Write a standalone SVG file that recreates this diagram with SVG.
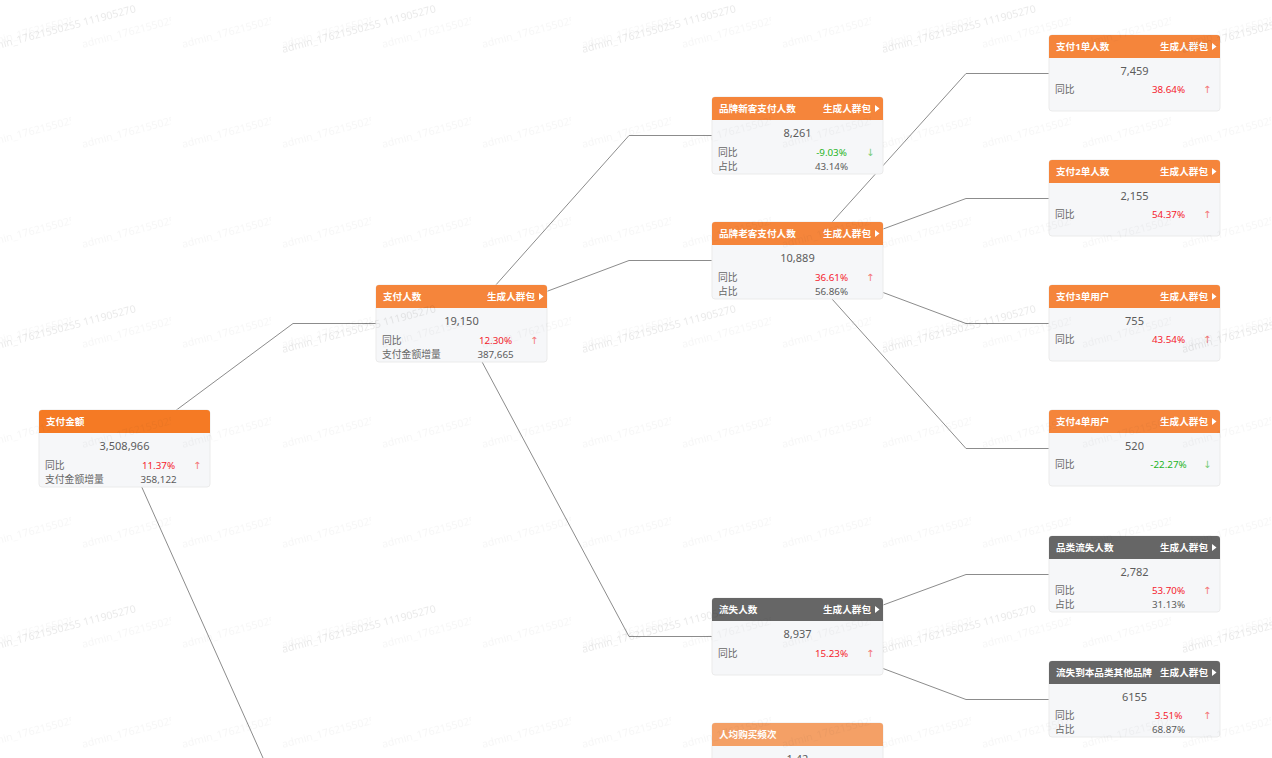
<svg xmlns="http://www.w3.org/2000/svg" width="1272" height="758" viewBox="0 0 1272 758">
  <defs>
    <style>
      .card { fill: #f6f7f9; stroke: #ebebeb; stroke-width: 1; }
      .hd-or { fill: #f5853b; }
      .hd-root { fill: #f57a24; }
      .hd-gray { fill: #666666; }
      .hd-light { fill: #f4a066; }
      text { font-family: "Noto Sans", "Noto Sans CJK SC", sans-serif; }
      .ht { font-size: 9.6px; font-weight: bold; fill: #ffffff; }
      .htr { font-size: 9.6px; font-weight: bold; fill: #ffffff; text-anchor: end; }
      .tri { fill: #ffffff; }
      .val { font-size: 11px; fill: #5c5c5c; text-anchor: middle; }
      .lb { font-size: 9.8px; fill: #666666; }
      .num { font-size: 9.8px; fill: #5c5c5c; text-anchor: middle; }
      .up { font-size: 9.8px; fill: #f5222d; text-anchor: middle; }
      .down { font-size: 9.8px; fill: #1eb41e; text-anchor: middle; }
      .aup { font-size: 10px; fill: #f47878; font-family: "DejaVu Sans", sans-serif; }
      .adown { font-size: 10px; fill: #78cc78; font-family: "DejaVu Sans", sans-serif; }
      .link { fill: none; stroke: #8c8c8c; stroke-width: 1; }
      .wm { font-family: "Noto Sans", sans-serif; font-size: 10.5px; }
    </style>
    <!-- repeating watermark layers -->
    <pattern id="wm-fine" patternUnits="userSpaceOnUse" x="71" y="-2" width="100" height="100">
      <text class="wm" x="12" y="50" fill="#000" fill-opacity="0.035" transform="rotate(-15 12 50)">admin_17621550255 111905270</text>
    </pattern>
    <pattern id="wm-main" patternUnits="userSpaceOnUse" x="-20" y="0" width="300" height="300">
      <text class="wm" x="3" y="53" fill="#000" fill-opacity="0.085" transform="rotate(-15 3 53)">admin_17621550255 111905270</text>
    </pattern>
  </defs>

  <rect width="1272" height="758" fill="#ffffff"/>

  <!-- tree connectors: parent centre -> elbow -> child left edge -->
  <g id="connectors">
    <polyline class="link" points="124.5,448.5 293,323.5 376,323.5"/>
    <polyline class="link" points="124.5,448.5 293,825 376,825"/>
    <polyline class="link" points="461.5,323.5 629,135.5 712,135.5"/>
    <polyline class="link" points="461.5,323.5 629,260.5 712,260.5"/>
    <polyline class="link" points="461.5,323.5 629,636.5 712,636.5"/>
    <polyline class="link" points="797.5,260.5 966,73.5 1049,73.5"/>
    <polyline class="link" points="797.5,260.5 966,198.5 1049,198.5"/>
    <polyline class="link" points="797.5,260.5 966,323.5 1049,323.5"/>
    <polyline class="link" points="797.5,260.5 966,448.5 1049,448.5"/>
    <polyline class="link" points="797.5,636.5 966,574.5 1049,574.5"/>
    <polyline class="link" points="797.5,636.5 966,699.5 1049,699.5"/>
  </g>

  <!-- root -->
  <g id="n-pay-amount" transform="translate(39,410)">
    <rect class="card" width="171" height="77" rx="3"/>
    <path class="hd-root" d="M0,23 V3 A3,3 0 0 1 3,0 H168 A3,3 0 0 1 171,3 V23 Z"/>
    <text class="ht" x="7" y="15">支付金额</text>
    <text class="val" x="85.5" y="40">3,508,966</text>
    <text class="lb" x="6" y="58.5">同比</text>
    <text class="up" x="119.5" y="58.5">11.37%</text>
    <text class="aup" x="154" y="58.5">↑</text>
    <text class="lb" x="6" y="72.5">支付金额增量</text>
    <text class="num" x="119.5" y="72.5">358,122</text>
  </g>

  <g id="n-payers" transform="translate(376,285)">
    <rect class="card" width="171" height="77" rx="3"/>
    <path class="hd-or" d="M0,23 V3 A3,3 0 0 1 3,0 H168 A3,3 0 0 1 171,3 V23 Z"/>
    <text class="ht" x="7" y="15">支付人数</text>
    <text class="htr" x="159" y="15">生成人群包</text>
    <path class="tri" d="M163,8 L167.5,11.5 L163,15 Z"/>
    <text class="val" x="85.5" y="40">19,150</text>
    <text class="lb" x="6" y="58.5">同比</text>
    <text class="up" x="119.5" y="58.5">12.30%</text>
    <text class="aup" x="154" y="58.5">↑</text>
    <text class="lb" x="6" y="72.5">支付金额增量</text>
    <text class="num" x="119.5" y="72.5">387,665</text>
  </g>

  <g id="n-new-buyers" transform="translate(712,97)">
    <rect class="card" width="171" height="77" rx="3"/>
    <path class="hd-or" d="M0,23 V3 A3,3 0 0 1 3,0 H168 A3,3 0 0 1 171,3 V23 Z"/>
    <text class="ht" x="7" y="15">品牌新客支付人数</text>
    <text class="htr" x="159" y="15">生成人群包</text>
    <path class="tri" d="M163,8 L167.5,11.5 L163,15 Z"/>
    <text class="val" x="85.5" y="40">8,261</text>
    <text class="lb" x="6" y="58.5">同比</text>
    <text class="down" x="119.5" y="58.5">-9.03%</text>
    <text class="adown" x="154" y="58.5">↓</text>
    <text class="lb" x="6" y="72.5">占比</text>
    <text class="num" x="119.5" y="72.5">43.14%</text>
  </g>

  <g id="n-old-buyers" transform="translate(712,222)">
    <rect class="card" width="171" height="77" rx="3"/>
    <path class="hd-or" d="M0,23 V3 A3,3 0 0 1 3,0 H168 A3,3 0 0 1 171,3 V23 Z"/>
    <text class="ht" x="7" y="15">品牌老客支付人数</text>
    <text class="htr" x="159" y="15">生成人群包</text>
    <path class="tri" d="M163,8 L167.5,11.5 L163,15 Z"/>
    <text class="val" x="85.5" y="40">10,889</text>
    <text class="lb" x="6" y="58.5">同比</text>
    <text class="up" x="119.5" y="58.5">36.61%</text>
    <text class="aup" x="154" y="58.5">↑</text>
    <text class="lb" x="6" y="72.5">占比</text>
    <text class="num" x="119.5" y="72.5">56.86%</text>
  </g>

  <g id="n-lost" transform="translate(712,598)">
    <rect class="card" width="171" height="77" rx="3"/>
    <path class="hd-gray" d="M0,23 V3 A3,3 0 0 1 3,0 H168 A3,3 0 0 1 171,3 V23 Z"/>
    <text class="ht" x="7" y="15">流失人数</text>
    <text class="htr" x="159" y="15">生成人群包</text>
    <path class="tri" d="M163,8 L167.5,11.5 L163,15 Z"/>
    <text class="val" x="85.5" y="40">8,937</text>
    <text class="lb" x="6" y="58.5">同比</text>
    <text class="up" x="119.5" y="58.5">15.23%</text>
    <text class="aup" x="154" y="58.5">↑</text>
  </g>

  <g id="n-frequency" transform="translate(712,723)">
    <rect class="card" width="171" height="77" rx="3"/>
    <path class="hd-light" d="M0,23 V3 A3,3 0 0 1 3,0 H168 A3,3 0 0 1 171,3 V23 Z"/>
    <text class="ht" x="7" y="15">人均购买频次</text>
    <text class="val" x="85.5" y="40">1.42</text>
  </g>

  <g id="n-1-order" transform="translate(1049,35)">
    <rect class="card" width="171" height="76" rx="3"/>
    <path class="hd-or" d="M0,23 V3 A3,3 0 0 1 3,0 H168 A3,3 0 0 1 171,3 V23 Z"/>
    <text class="ht" x="7" y="15">支付1单人数</text>
    <text class="htr" x="159" y="15">生成人群包</text>
    <path class="tri" d="M163,8 L167.5,11.5 L163,15 Z"/>
    <text class="val" x="85.5" y="39.5">7,459</text>
    <text class="lb" x="6" y="58">同比</text>
    <text class="up" x="119.5" y="58">38.64%</text>
    <text class="aup" x="154" y="58">↑</text>
  </g>

  <g id="n-2-orders" transform="translate(1049,160)">
    <rect class="card" width="171" height="76" rx="3"/>
    <path class="hd-or" d="M0,23 V3 A3,3 0 0 1 3,0 H168 A3,3 0 0 1 171,3 V23 Z"/>
    <text class="ht" x="7" y="15">支付2单人数</text>
    <text class="htr" x="159" y="15">生成人群包</text>
    <path class="tri" d="M163,8 L167.5,11.5 L163,15 Z"/>
    <text class="val" x="85.5" y="39.5">2,155</text>
    <text class="lb" x="6" y="58">同比</text>
    <text class="up" x="119.5" y="58">54.37%</text>
    <text class="aup" x="154" y="58">↑</text>
  </g>

  <g id="n-3-orders" transform="translate(1049,285)">
    <rect class="card" width="171" height="76" rx="3"/>
    <path class="hd-or" d="M0,23 V3 A3,3 0 0 1 3,0 H168 A3,3 0 0 1 171,3 V23 Z"/>
    <text class="ht" x="7" y="15">支付3单用户</text>
    <text class="htr" x="159" y="15">生成人群包</text>
    <path class="tri" d="M163,8 L167.5,11.5 L163,15 Z"/>
    <text class="val" x="85.5" y="39.5">755</text>
    <text class="lb" x="6" y="58">同比</text>
    <text class="up" x="119.5" y="58">43.54%</text>
    <text class="aup" x="154" y="58">↑</text>
  </g>

  <g id="n-4-orders" transform="translate(1049,410)">
    <rect class="card" width="171" height="76" rx="3"/>
    <path class="hd-or" d="M0,23 V3 A3,3 0 0 1 3,0 H168 A3,3 0 0 1 171,3 V23 Z"/>
    <text class="ht" x="7" y="15">支付4单用户</text>
    <text class="htr" x="159" y="15">生成人群包</text>
    <path class="tri" d="M163,8 L167.5,11.5 L163,15 Z"/>
    <text class="val" x="85.5" y="39.5">520</text>
    <text class="lb" x="6" y="58">同比</text>
    <text class="down" x="119.5" y="58">-22.27%</text>
    <text class="adown" x="154" y="58">↓</text>
  </g>

  <g id="n-category-lost" transform="translate(1049,536)">
    <rect class="card" width="171" height="76" rx="3"/>
    <path class="hd-gray" d="M0,23 V3 A3,3 0 0 1 3,0 H168 A3,3 0 0 1 171,3 V23 Z"/>
    <text class="ht" x="7" y="15">品类流失人数</text>
    <text class="htr" x="159" y="15">生成人群包</text>
    <path class="tri" d="M163,8 L167.5,11.5 L163,15 Z"/>
    <text class="val" x="85.5" y="39.5">2,782</text>
    <text class="lb" x="6" y="58">同比</text>
    <text class="up" x="119.5" y="58">53.70%</text>
    <text class="aup" x="154" y="58">↑</text>
    <text class="lb" x="6" y="72">占比</text>
    <text class="num" x="119.5" y="72">31.13%</text>
  </g>

  <g id="n-lost-to-rivals" transform="translate(1049,661)">
    <rect class="card" width="171" height="76" rx="3"/>
    <path class="hd-gray" d="M0,23 V3 A3,3 0 0 1 3,0 H168 A3,3 0 0 1 171,3 V23 Z"/>
    <text class="ht" x="7" y="15">流失到本品类其他品牌</text>
    <text class="htr" x="159" y="15">生成人群包</text>
    <path class="tri" d="M163,8 L167.5,11.5 L163,15 Z"/>
    <text class="val" x="85.5" y="39.5">6155</text>
    <text class="lb" x="6" y="58">同比</text>
    <text class="up" x="119.5" y="58">3.51%</text>
    <text class="aup" x="154" y="58">↑</text>
    <text class="lb" x="6" y="72">占比</text>
    <text class="num" x="119.5" y="72">68.87%</text>
  </g>

  <!-- watermark overlay -->
  <g id="watermark" pointer-events="none">
    <rect width="1272" height="758" fill="url(#wm-fine)"/>
    <rect width="1272" height="758" fill="url(#wm-main)"/>
  </g>
</svg>
